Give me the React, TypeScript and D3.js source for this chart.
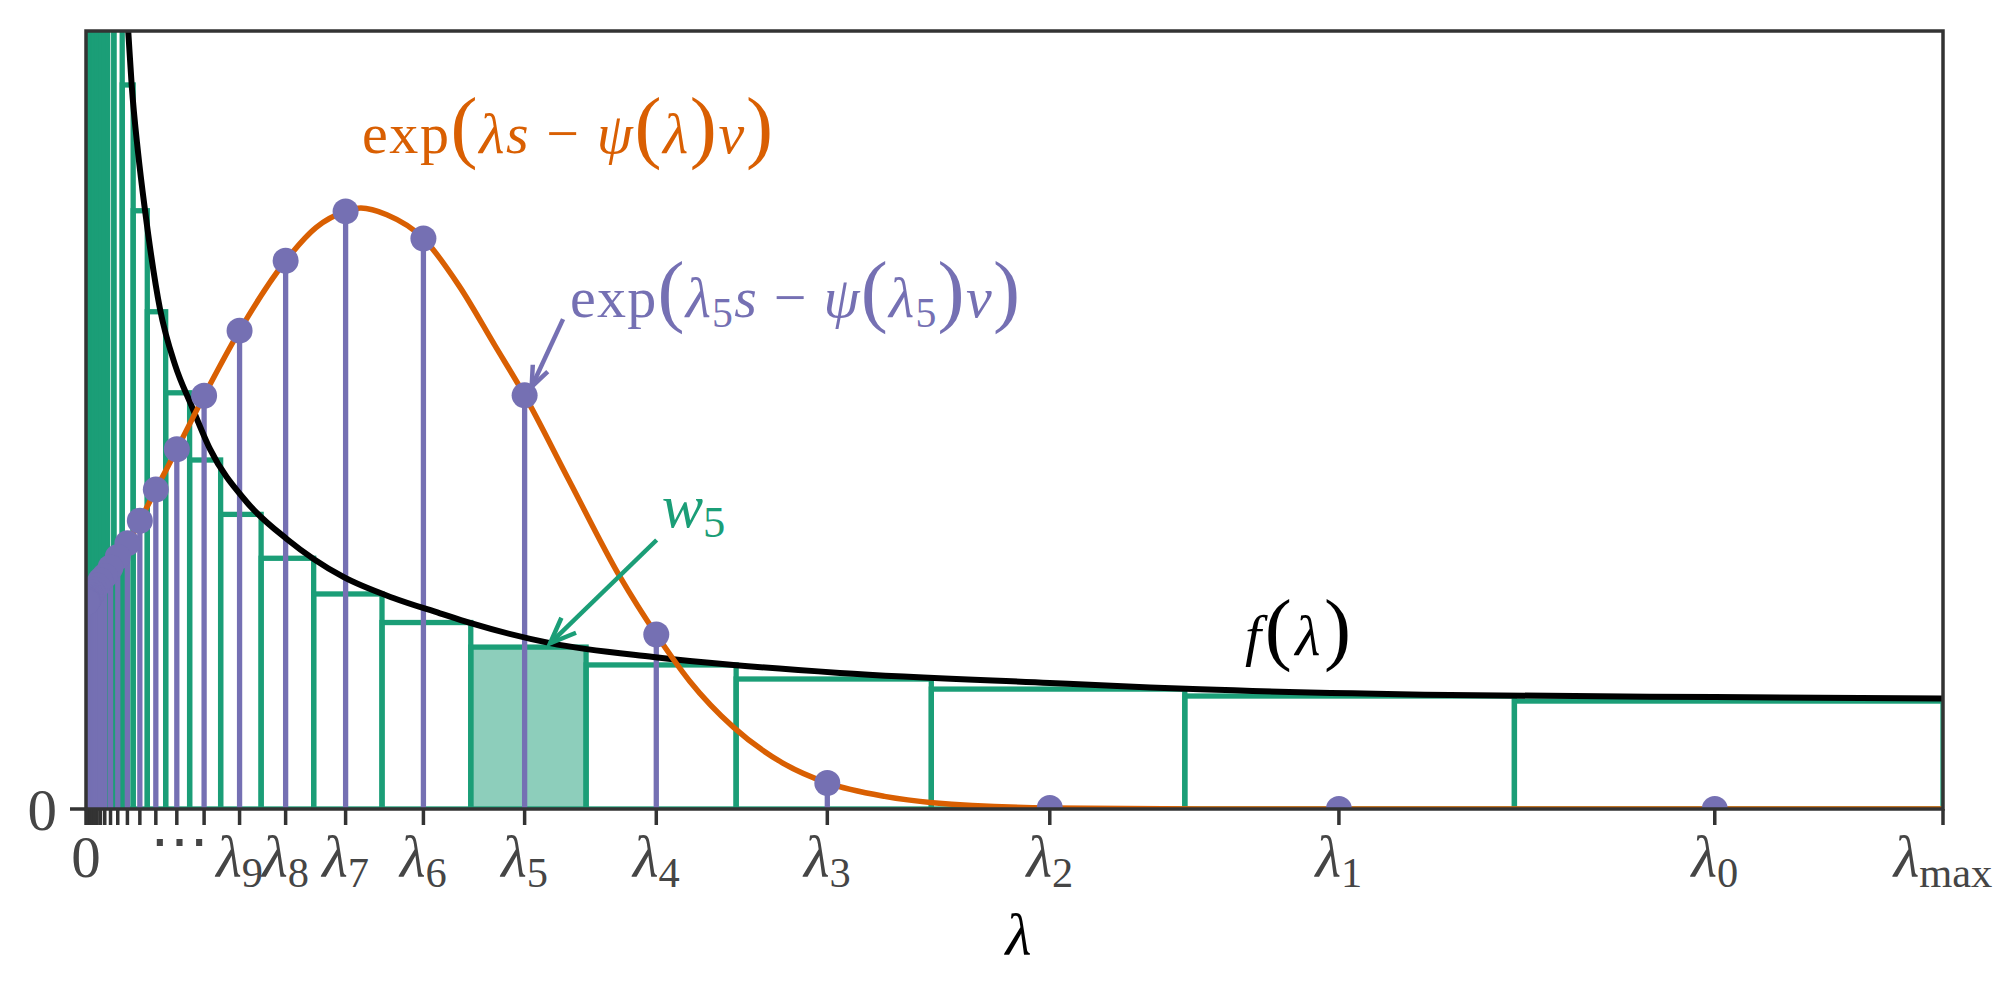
import React from 'react';
import * as d3 from 'd3';

// ---------- data ----------
const LAMBDA_MAX = 10;
const Y_MAX = 3.705;

// sample points lambda_0 ... lambda_29
const lambdas = [8.771, 6.747, 5.19, 3.992, 3.071, 2.362, 1.817, 1.398, 1.075, 0.827, 0.636, 0.489, 0.376, 0.29, 0.223, 0.171, 0.132, 0.101, 0.078, 0.06, 0.046, 0.036, 0.027, 0.021, 0.016, 0.012, 0.0096, 0.0074, 0.0057, 0.0044];
// stem heights exp(lambda_i s - psi(lambda_i) v)
const stemValues = [0, 0, 0.005, 0.124, 0.831, 1.97, 2.717, 2.846, 2.611, 2.278, 1.968, 1.713, 1.521, 1.373, 1.265, 1.2, 1.15, 1.11, 1.089, 1.064, 1.044, 1.03, 1.018, 1.009, 1.002, 0.997, 0.993, 0.99, 0.988, 0.986];
// bin edges (right edge of bin i is binEdges[i], left edge binEdges[i+1])
const binEdges = [10, 7.692, 5.917, 4.552, 3.501, 2.693, 2.072, 1.594, 1.226, 0.943, 0.725, 0.558, 0.429, 0.33, 0.254, 0.195, 0.15, 0.116, 0.089, 0.068, 0.053, 0.04, 0.031, 0.024, 0.018, 0.014, 0.011, 0.0084, 0.0065, 0.005, 0.0038];
const binHeights = [0.514, 0.538, 0.571, 0.619, 0.686, 0.771, 0.888, 1.024, 1.194, 1.403, 1.662, 1.982, 2.368, 2.849, 3.448, 4.2, 5.1, 6.3, 7.7, 9.5, 11.6, 14.2, 17.4, 21.3, 26, 32, 39, 48, 59, 72];
const highlightedBin = 5;

// f(lambda) curve
const fLambda = [0.2, 0.2278, 0.246, 0.28, 0.3177, 0.3985, 0.48, 0.569, 0.668, 0.865, 1.081, 1.386, 1.655, 1.906, 2.068, 2.5, 3.055, 3.486, 4.06, 5.19, 5.73, 6.0, 7.345, 8.77, 10];
const fValue = [4.095, 3.7, 3.448, 3.129, 2.852, 2.381, 2.114, 1.919, 1.714, 1.462, 1.286, 1.105, 1.005, 0.932, 0.886, 0.79, 0.724, 0.686, 0.648, 0.6, 0.579, 0.57, 0.543, 0.533, 0.526];

// exp(lambda s - psi(lambda) v) curve
const gLambda = [0, 0.0044, 0.0074, 0.012, 0.021, 0.036, 0.06, 0.078, 0.101, 0.132, 0.171, 0.223, 0.29, 0.376, 0.489, 0.636, 0.827, 1.075, 1.24, 1.398, 1.48, 1.62, 1.817, 2.01, 2.2, 2.362, 2.6, 2.876, 3.071, 3.25, 3.486, 3.75, 3.992, 4.3, 4.56, 5.19, 6.0, 10];
const gValue = [0.98, 0.986, 0.99, 0.997, 1.009, 1.03, 1.064, 1.089, 1.11, 1.15, 1.2, 1.265, 1.373, 1.521, 1.713, 1.968, 2.278, 2.611, 2.77, 2.846, 2.862, 2.83, 2.717, 2.49, 2.21, 1.97, 1.567, 1.105, 0.831, 0.61, 0.39, 0.22, 0.124, 0.06, 0.03, 0.005, 0, 0];

// tick labels for lambda_0..lambda_9
const labeledSubs = ['0', '1', '2', '3', '4', '5', '6', '7', '8', '9'];

// ---------- styles ----------
const FONT = '"Liberation Serif", "DejaVu Serif", serif';
const C_GREEN = '#1b9e77';
const C_ORANGE = '#d95f02';
const C_PURPLE = '#7570b3';
const C_AXIS = '#333333';
const C_TICKTEXT = '#454545';

const W = 2000;
const H = 1000;
const M = { left: 86, right: 1943, top: 31, bottom: 809 };

type Seg = { t: string; it?: boolean; sub?: boolean; big?: boolean };

function MathText(props: { x: number; y: number; parts: Seg[]; fill: string; size: number; anchor?: string; length?: number }) {
  const { x, y, parts, fill, size, anchor = 'start', length } = props;
  const subSize = size * 0.72;
  const bigSize = size * 1.4;
  const shift = size * 0.17;
  let cur = 0;
  return (
    <text
      x={x}
      y={y}
      fill={fill}
      fontSize={size}
      fontFamily={FONT}
      textAnchor={anchor}
      style={{ whiteSpace: 'pre' }}
      textLength={length}
      lengthAdjust={length ? 'spacing' : undefined}
    >
      {parts.map((p, i) => {
        const target = p.sub ? shift : 0;
        const dy = target - cur;
        cur = target;
        return (
          <tspan key={i} dy={dy} fontStyle={p.it ? 'italic' : 'normal'} fontSize={p.sub ? subSize : p.big ? bigSize : size}>
            {p.t}
          </tspan>
        );
      })}
    </text>
  );
}

function Arrow(props: { x1: number; y1: number; x2: number; y2: number; color: string; head: number; width: number }) {
  const { x1, y1, x2, y2, color, head, width } = props;
  const ang = Math.atan2(y2 - y1, x2 - x1);
  const a = (22 * Math.PI) / 180;
  const p1 = [x2 - head * Math.cos(ang - a), y2 - head * Math.sin(ang - a)];
  const p2 = [x2 - head * Math.cos(ang + a), y2 - head * Math.sin(ang + a)];
  return (
    <g stroke={color} strokeWidth={width} fill="none">
      <line x1={x1} y1={y1} x2={x2} y2={y2} />
      <polyline points={`${p1[0]},${p1[1]} ${x2},${y2} ${p2[0]},${p2[1]}`} strokeLinejoin="miter" />
    </g>
  );
}

export default function App() {
  const x = d3.scaleLinear().domain([0, LAMBDA_MAX]).range([M.left, M.right]);
  const y = d3.scaleLinear().domain([0, Y_MAX]).range([M.bottom, M.top]);
  const line = d3
    .line<[number, number]>()
    .x((d) => x(d[0]))
    .y((d) => y(d[1]))
    .curve(d3.curveMonotoneX);

  const fPts = fLambda.map((v, i) => [v, fValue[i]] as [number, number]);
  const gPts = gLambda.map((v, i) => [v, gValue[i]] as [number, number]);

  const bins = binHeights.map((h, i) => ({ x0: binEdges[i + 1], x1: binEdges[i], h, i }));
  const tickPositions = [0, ...lambdas, LAMBDA_MAX];
  const tickLen = 16;
  const labelBase = 877;
  const TICK_FS = 59;
  const ANN_FS = 58;

  return (
    <div>
      <style>{'body{margin:0}'}</style>
      <svg width={W} height={H} style={{ display: 'block', background: '#fff' }}>
        <defs>
          <clipPath id="plot">
            <rect x={M.left} y={M.top} width={M.right - M.left} height={M.bottom - M.top} />
          </clipPath>
        </defs>

        <g clipPath="url(#plot)">
          {/* green bins */}
          {bins.map((b) => (
            <rect
              key={'b' + b.i}
              x={x(b.x0)}
              y={y(b.h)}
              width={x(b.x1) - x(b.x0)}
              height={y(0) - y(b.h)}
              fill={b.i === highlightedBin ? C_GREEN : 'none'}
              fillOpacity={b.i === highlightedBin ? 0.5 : 0}
              stroke={C_GREEN}
              strokeWidth={5.3}
            />
          ))}
          {/* purple stems */}
          {lambdas.map((l, i) => (
            <line key={'s' + i} x1={x(l)} x2={x(l)} y1={y(0)} y2={y(stemValues[i])} stroke={C_PURPLE} strokeWidth={5.3} />
          ))}
          {/* f(lambda) */}
          <path d={line(fPts) || ''} fill="none" stroke="#000" strokeWidth={6} />
          {/* exp curve */}
          <path d={line(gPts) || ''} fill="none" stroke={C_ORANGE} strokeWidth={5.5} />
          {/* markers */}
          {lambdas.map((l, i) => (
            <circle key={'m' + i} cx={x(l)} cy={y(stemValues[i])} r={13} fill={C_PURPLE} />
          ))}
        </g>

        {/* spines */}
        <rect x={M.left} y={M.top} width={M.right - M.left} height={M.bottom - M.top} fill="none" stroke={C_AXIS} strokeWidth={3.5} />
        {/* x ticks */}
        {tickPositions.map((t, i) => (
          <line key={'t' + i} x1={x(t)} x2={x(t)} y1={M.bottom} y2={M.bottom + tickLen} stroke={C_AXIS} strokeWidth={3.5} />
        ))}
        {/* y tick */}
        <line x1={M.left - tickLen} x2={M.left} y1={y(0)} y2={y(0)} stroke={C_AXIS} strokeWidth={3.5} />
        <text x={57} y={y(0) + 21} fontFamily={FONT} fontSize={TICK_FS} fill={C_TICKTEXT} textAnchor="end">0</text>

        {/* x tick labels */}
        <text x={x(0)} y={labelBase} fontFamily={FONT} fontSize={TICK_FS} fill={C_TICKTEXT} textAnchor="middle">0</text>
        <text x={x(lambdas[10]) + 5} y={labelBase - 16} fontFamily={FONT} fontSize={TICK_FS} fill={C_TICKTEXT} textAnchor="end">⋯</text>
        {labeledSubs.map((s, i) => (
          <MathText
            key={'l' + i}
            x={x(lambdas[i])}
            y={labelBase}
            size={TICK_FS}
            fill={C_TICKTEXT}
            anchor="middle"
            parts={[{ t: 'λ', it: true }, { t: s, sub: true }]}
          />
        ))}
        <MathText
          x={x(LAMBDA_MAX)}
          y={labelBase}
          size={TICK_FS}
          fill={C_TICKTEXT}
          anchor="middle"
          parts={[{ t: 'λ', it: true }, { t: 'max', sub: true }]}
        />
        {/* x axis label */}
        <MathText x={(M.left + M.right) / 2 + 4} y={955} size={60} fill="#000" anchor="middle" parts={[{ t: 'λ', it: true }]} />

        {/* annotations */}
        <MathText
          x={x(1.486)}
          y={y(3.124)}
          size={ANN_FS}
          fill={C_ORANGE}
          length={411}
          parts={[
            { t: 'exp' },
            { t: '(', big: true },
            { t: 'λs', it: true },
            { t: ' − ' },
            { t: 'ψ', it: true },
            { t: '(', big: true },
            { t: 'λ', it: true },
            { t: ')', big: true },
            { t: 'v', it: true },
            { t: ')', big: true },
          ]}
        />
        <MathText
          x={x(2.606)}
          y={y(2.343)}
          size={ANN_FS}
          fill={C_PURPLE}
          length={450}
          parts={[
            { t: 'exp' },
            { t: '(', big: true },
            { t: 'λ', it: true },
            { t: '5', sub: true },
            { t: 's', it: true },
            { t: ' − ' },
            { t: 'ψ', it: true },
            { t: '(', big: true },
            { t: 'λ', it: true },
            { t: '5', sub: true },
            { t: ')', big: true },
            { t: 'v', it: true },
            { t: ')', big: true },
          ]}
        />
        <MathText
          x={x(3.1)}
          y={y(1.344)}
          size={62}
          fill={C_GREEN}
          parts={[{ t: 'w', it: true }, { t: '5', sub: true }]}
        />
        <MathText
          x={x(6.241)}
          y={y(0.733)}
          size={ANN_FS}
          fill="#000"
          length={106}
          parts={[{ t: 'f', it: true }, { t: '(', big: true }, { t: 'λ', it: true }, { t: ')', big: true }]}
        />

        <Arrow x1={x(2.569)} y1={y(2.333)} x2={x(2.4)} y2={y(2.011)} color={C_PURPLE} head={22} width={4.5} />
        <Arrow x1={x(3.073)} y1={y(1.281)} x2={x(2.499)} y2={y(0.789)} color={C_GREEN} head={28} width={4.5} />
      </svg>
    </div>
  );
}
